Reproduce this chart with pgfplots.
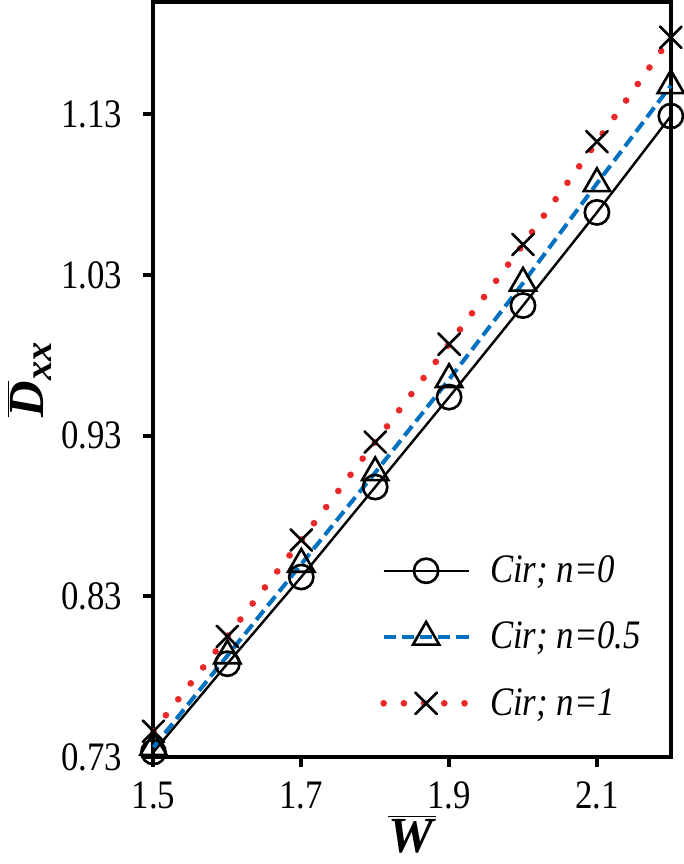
\documentclass[border={0pt 2pt 0pt 0pt}]{standalone}
\usepackage{graphicx}
\usepackage{pgfplots}
\pgfplotsset{compat=1.18}
\usepackage{fontspec}
\setmainfont{Liberation Serif}
\definecolor{myred}{RGB}{235,40,40}
\definecolor{myblue}{RGB}{0,112,192}
\newcommand{\nx}[1]{\scalebox{0.86}[1]{#1}}
\begin{document}
\begin{tikzpicture}
\begin{axis}[
  scale only axis,
  width=256pt, height=373.5pt,
  xmin=1.5, xmax=2.2, ymin=0.73, ymax=1.2,
  xtick={1.5,1.7,1.9,2.1}, ytick={0.73,0.83,0.93,1.03,1.13},
  xticklabels={\nx{1.5},\nx{1.7},\nx{1.9},\nx{2.1}},
  yticklabels={\nx{0.73},\nx{0.83},\nx{0.93},\nx{1.03},\nx{1.13}},
  xtick pos=bottom, ytick pos=left,
  tick align=outside, major tick length=5pt,
  tick style={line width=2pt, black},
  axis line style={line width=2pt},
  tick label style={font=\fontsize{20}{22}\selectfont},
  xticklabel style={yshift=-4pt},
  yticklabel style={xshift=-7pt},
  /pgf/number format/assume math mode=true,
  xlabel={\fontsize{25}{26}\selectfont $\overline{\mbox{\textbf{\textit{W}}}}$},
  ylabel={\fontsize{25}{26}\selectfont $\overline{\mbox{\textbf{\textit{D}}}}_{\mbox{\fontsize{19}{20}\selectfont\textbf{\textit{xx}}}}$},
  xlabel style={yshift=4pt},
  ylabel style={yshift=-2pt},
  legend style={draw=none, fill=none, at={(0.99,0.04)}, anchor=south east,
    font=\fontsize{20}{22}\selectfont\itshape, row sep=14pt,
    nodes={inner xsep=9pt},
    legend cell align=left},
  legend image code/.code={\draw[mark repeat=2,mark phase=2] plot coordinates {(0pt,0pt)(21pt,0pt)(42pt,0pt)};},
  clip=false,
]
\addplot[black, line width=1.2pt, mark=o, mark size=6pt, mark options={solid, line width=1.3pt, black}]
coordinates {(1.5,0.733)(1.6,0.788)(1.7,0.842)(1.8,0.898)(1.9,0.954)(2.0,1.011)(2.1,1.069)(2.2,1.129)};
\addlegendentry{\nx{Cir; n=0}}
\addplot[myblue, line width=2pt, dash pattern=on 6pt off 3pt, mark=triangle, mark size=7.5pt, mark options={solid, line width=1.3pt, black}]
coordinates {(1.5,0.736)(1.6,0.793)(1.7,0.850)(1.8,0.907)(1.9,0.965)(2.0,1.025)(2.1,1.087)(2.2,1.148)};
\addlegendentry{\nx{Cir; n=0.5}}
\addplot[myred, line width=3.3pt, line cap=round, dash pattern=on 0pt off 10pt, mark=x, mark size=7.5pt, mark options={solid, line width=1.3pt, black}]
coordinates {(1.5,0.746)(1.6,0.805)(1.7,0.865)(1.8,0.926)(1.9,0.987)(2.0,1.049)(2.1,1.113)(2.2,1.178)};
\addlegendentry{\nx{Cir; n=1}}
\end{axis}
\end{tikzpicture}
\end{document}
